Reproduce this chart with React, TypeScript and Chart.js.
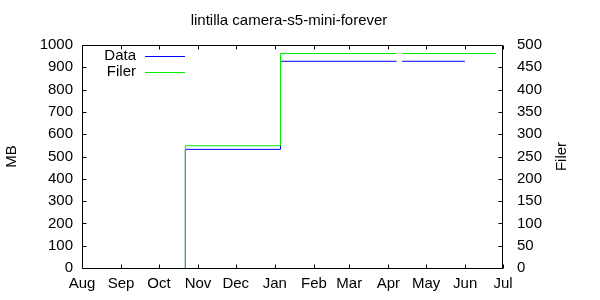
import React, { useEffect, useRef } from 'react';
import { Chart, registerables } from 'chart.js';

Chart.register(...registerables);

// ---- data ----
const chartTitle = 'lintilla camera-s5-mini-forever';
const leftAxisTitle = 'MB';
const rightAxisTitle = 'Filer';
const monthLabels = ['Aug', 'Sep', 'Oct', 'Nov', 'Dec', 'Jan', 'Feb', 'Mar', 'Apr', 'May', 'Jun', 'Jul'];
// days counted from 1 Aug
const monthStartDays = [0, 31, 61, 92, 122, 153, 184, 212, 243, 273, 304, 334];
const sampleDays = [82, 157.5, 249.5, 251.8, 254, 303.8, 328.2];
const dataMB = [0, 532, 927, null, 927, 927, null];
const filerCount = [0, 274, 481, null, 481, 481, 481];
const seriesLabels = ['Data', 'Filer'];
const seriesColors = ['#0000ff', '#00ee00'];

const FONT = "'Liberation Sans', Arial, Helvetica, sans-serif";
const FS = 15;

const gnuplotDecor = {
  id: 'gnuplotDecor',
  afterDraw(chart: any) {
    const { ctx, chartArea } = chart;
    const { left, right, top, bottom } = chartArea;
    ctx.save();
    ctx.strokeStyle = '#000';
    ctx.lineWidth = 1;
    // frame
    const L = Math.round(left) + 0.5;
    const R = Math.round(right) - 0.5;
    const T = Math.round(top) + 0.5;
    const B = Math.round(bottom) + 0.5;
    ctx.beginPath();
    ctx.rect(L, T, R - L, B - T);
    ctx.stroke();
    const tl = 4;
    // x ticks (bottom and mirrored top)
    const xs = chart.scales.x;
    ctx.beginPath();
    xs.ticks.forEach((t: any) => {
      const px = Math.round(xs.getPixelForValue(t.value)) + 0.5;
      ctx.moveTo(px, B);
      ctx.lineTo(px, B - tl);
      ctx.moveTo(px, T);
      ctx.lineTo(px, T + tl);
    });
    // y ticks left
    const ys = chart.scales.y;
    ys.ticks.forEach((t: any) => {
      const py = Math.round(ys.getPixelForValue(t.value)) + 0.5;
      ctx.moveTo(L, py);
      ctx.lineTo(L + tl, py);
    });
    // y2 ticks right
    const y2 = chart.scales.y2;
    y2.ticks.forEach((t: any) => {
      const py = Math.round(y2.getPixelForValue(t.value)) + 0.5;
      ctx.moveTo(R, py);
      ctx.lineTo(R - tl, py);
    });
    ctx.stroke();

    // texts
    ctx.fillStyle = '#000';
    ctx.font = `${FS}px ${FONT}`;
    ctx.textBaseline = 'middle';
    ctx.textAlign = 'center';
    ctx.fillText(chartTitle, 289, 21);

    const midY = (top + bottom) / 2;
    ctx.save();
    ctx.translate(12, midY);
    ctx.rotate(-Math.PI / 2);
    ctx.fillText(leftAxisTitle, 0, 0);
    ctx.restore();
    ctx.save();
    ctx.translate(562, midY);
    ctx.rotate(-Math.PI / 2);
    ctx.fillText(rightAxisTitle, 0, 0);
    ctx.restore();

    // legend
    ctx.textAlign = 'right';
    seriesLabels.forEach((lab, i) => {
      const y = 56 + i * 15.6;
      ctx.fillStyle = '#000';
      ctx.fillText(lab, 136, y);
      ctx.strokeStyle = seriesColors[i];
      ctx.beginPath();
      ctx.moveTo(145, Math.round(y) + 0.5);
      ctx.lineTo(185, Math.round(y) + 0.5);
      ctx.stroke();
    });
    ctx.restore();
  },
};

export default function App() {
  const ref = useRef<HTMLCanvasElement>(null);
  useEffect(() => {
    document.body.style.margin = '0';
    const tickFont = { family: FONT, size: FS };
    const noGrid = { display: false, drawTicks: false };
    const chart = new Chart(ref.current as HTMLCanvasElement, {
      type: 'line',
      data: {
        datasets: [
          {
            label: seriesLabels[0],
            data: sampleDays.map((d, i) => ({ x: d, y: dataMB[i] })) as any,
            borderColor: seriesColors[0],
            borderWidth: 1,
            pointRadius: 0,
            stepped: 'after',
            spanGaps: false,
            yAxisID: 'y',
            order: 1,
          },
          {
            label: seriesLabels[1],
            data: sampleDays.map((d, i) => ({ x: d, y: filerCount[i] })) as any,
            borderColor: seriesColors[1],
            borderWidth: 1,
            pointRadius: 0,
            stepped: 'after',
            spanGaps: false,
            yAxisID: 'y2',
            order: 0,
          },
        ],
      },
      options: {
        animation: false,
        responsive: false,
        devicePixelRatio: 1,
        layout: { padding: { top: 45, left: 0, right: 0, bottom: 0 } },
        plugins: {
          legend: { display: false },
          title: { display: false },
          tooltip: { enabled: false },
        },
        scales: {
          x: {
            type: 'linear',
            min: monthStartDays[0],
            max: monthStartDays[monthStartDays.length - 1],
            grid: noGrid,
            border: { display: false },
            afterBuildTicks: (s: any) => {
              s.ticks = monthStartDays.map((v) => ({ value: v }));
            },
            afterFit: (s: any) => {
              s.height = 32;
            },
            ticks: {
              autoSkip: false,
              maxRotation: 0,
              padding: 6.5,
              color: '#000',
              font: tickFont,
              callback: (v: any) => monthLabels[monthStartDays.indexOf(Number(v))],
            },
          },
          y: {
            type: 'linear',
            position: 'left',
            min: 0,
            max: 1000,
            grid: noGrid,
            border: { display: false },
            afterFit: (s: any) => {
              s.width = 82;
            },
            ticks: {
              stepSize: 100,
              autoSkip: false,
              padding: 9,
              color: '#000',
              font: tickFont,
              callback: (v: any) => String(v),
            },
          },
          y2: {
            type: 'linear',
            position: 'right',
            min: 0,
            max: 500,
            grid: noGrid,
            border: { display: false },
            afterFit: (s: any) => {
              s.width = 97;
            },
            ticks: {
              stepSize: 50,
              autoSkip: false,
              padding: 14,
              color: '#000',
              font: tickFont,
              callback: (v: any) => String(v),
            },
          },
        },
      },
      plugins: [gnuplotDecor],
    });
    return () => chart.destroy();
  }, []);
  return (
    <div style={{ width: 600, height: 300 }}>
      <canvas ref={ref} width={600} height={300} style={{ display: 'block' }} />
    </div>
  );
}
